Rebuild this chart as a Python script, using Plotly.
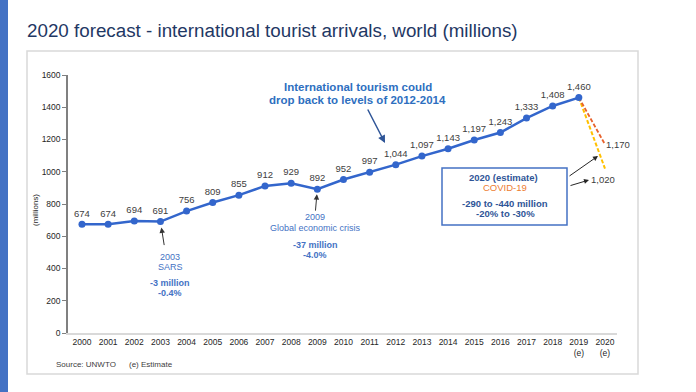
import plotly.graph_objects as go

# ---------------- data ----------------
years = list(range(2000, 2020))
arrivals = [674, 674, 694, 691, 756, 809, 855, 912, 929, 892,
            952, 997, 1044, 1097, 1143, 1197, 1243, 1333, 1408, 1460]
forecast_years = [2019, 2020]
forecast_high = [1460, 1170]
forecast_low = [1460, 1020]
tick_years = list(range(2000, 2021))
tick_text = [str(y) for y in range(2000, 2019)] + ["2019<br>(e)", "2020<br>(e)"]
point_labels = [f"{v:,}" for v in arrivals]

W, H = 696, 392
L, R, T, B = 68, 617, 75, 333


def px(x):
    return (x - L) / (R - L)


def py(y):
    return (B - y) / (B - T)


FONT = "Arial, 'Liberation Sans', sans-serif"
BLUE_LINE = "#3366CC"
TXT_BLUE = "#4472C4"

fig = go.Figure()

fig.add_trace(go.Scatter(
    x=forecast_years, y=forecast_low, mode="lines",
    line=dict(color="#FFC000", width=2, dash="4px,2px"), hoverinfo="skip"))
fig.add_trace(go.Scatter(
    x=forecast_years, y=forecast_high, mode="lines",
    line=dict(color="#E8622C", width=1.8, dash="4px,2px"), hoverinfo="skip"))
fig.add_trace(go.Scatter(
    x=years, y=arrivals, mode="lines+markers+text",
    line=dict(color=BLUE_LINE, width=2.5),
    marker=dict(size=7, color=BLUE_LINE),
    text=point_labels, textposition="top center",
    textfont=dict(size=9.5, color="#404040", family=FONT),
    cliponaxis=False))

shapes = [
    dict(type="rect", xref="paper", yref="paper",
         x0=px(0), x1=px(8), y0=py(392), y1=py(0),
         fillcolor="#4472C4", line=dict(width=0), layer="below"),
    dict(type="rect", xref="paper", yref="paper",
         x0=px(27), x1=px(638), y0=py(374), y1=py(51),
         fillcolor="rgba(0,0,0,0)", line=dict(color="#D9D9D9", width=1.5), layer="below"),
    dict(type="rect", xref="paper", yref="paper",
         x0=px(442), x1=px(567), y0=py(225), y1=py(168),
         fillcolor="white", line=dict(color="#4472C4", width=1.5)),
]

ann = []


def text(x, y, s, size=9, color=TXT_BLUE, bold=False, anchor="center"):
    ann.append(dict(xref="paper", yref="paper", x=px(x), y=py(y),
                    text=f"<b>{s}</b>" if bold else s, showarrow=False,
                    xanchor=anchor, yanchor="middle",
                    font=dict(size=size, color=color, family=FONT)))


# title
text(25, 31, "2020 forecast - international tourist arrivals, world (millions)",
     size=18.8, color="#1F3864", anchor="left")
# axis title
ann.append(dict(xref="paper", yref="paper", x=px(35), y=py(210), text="(millions)",
                showarrow=False, textangle=-90, xanchor="center", yanchor="middle",
                font=dict(size=8, color="#262626", family=FONT)))
# source
text(54, 364, "Source: UNWTO", size=8, color="#404040", anchor="left")
text(127, 364, "(e) Estimate", size=8, color="#404040", anchor="left")

# international tourism note
text(358, 87, "International tourism could", size=11.5, color="#2E6FBF", bold=True)
text(357, 100, "drop back to levels of 2012-2014", size=11.5, color="#2E6FBF", bold=True)
ann.append(dict(xref="paper", yref="paper", x=px(385), y=py(143), ax=-18, ay=-35,
                text="", showarrow=True, arrowhead=2, arrowsize=1, arrowwidth=1.5,
                arrowcolor="#2F5597"))

# 2003
ann.append(dict(x=2003, y=691, ax=4, ay=25, text="", showarrow=True, arrowhead=2,
                arrowsize=1.1, arrowwidth=1, arrowcolor="#333333", standoff=6))
text(170, 257, "2003")
text(170, 267, "SARS")
text(170, 283, "-3 million", bold=True)
text(170, 293, "-0.4%", bold=True)

# 2009
ann.append(dict(x=2009, y=892, ax=-2, ay=23, text="", showarrow=True, arrowhead=2,
                arrowsize=1.1, arrowwidth=1, arrowcolor="#333333", standoff=5))
text(315, 217, "2009")
text(315, 228, "Global economic crisis")
text(315, 245, "-37 million", bold=True)
text(315, 255, "-4.0%", bold=True)

# 2020 box
text(503, 177, "2020 (estimate)", size=9.5, color="#2F5597", bold=True)
text(505, 187, "COVID-19", size=9.5, color="#ED7D31")
text(505, 203, "-290 to -440 million", size=9.5, color="#2F5597", bold=True)
text(505, 213, "-20% to -30%", size=9.5, color="#2F5597", bold=True)

ann.append(dict(xref="paper", yref="paper", x=px(598), y=py(156), ax=-30, ay=21,
                text="", showarrow=True, arrowhead=2, arrowsize=1, arrowwidth=1,
                arrowcolor="#262626"))
ann.append(dict(xref="paper", yref="paper", x=px(589), y=py(180), ax=-20, ay=6,
                text="", showarrow=True, arrowhead=2, arrowsize=1, arrowwidth=1,
                arrowcolor="#262626"))

# forecast labels
ann.append(dict(x=2020, y=forecast_high[1], text=f"{forecast_high[1]:,}", showarrow=False,
                xanchor="left", yanchor="middle", xshift=-1,
                font=dict(size=9.5, color="#404040", family=FONT)))
ann.append(dict(x=2020, y=forecast_low[1], text=f"{forecast_low[1]:,}", showarrow=False,
                xanchor="center", yanchor="middle", xshift=-2, yshift=-11,
                font=dict(size=9.5, color="#404040", family=FONT)))

fig.update_layout(
    width=W, height=H,
    margin=dict(l=L, r=W - R, t=T, b=H - B),
    paper_bgcolor="white", plot_bgcolor="white",
    showlegend=False,
    font=dict(family=FONT),
    shapes=shapes, annotations=ann,
    xaxis=dict(range=[1999.465, 2020.46], tickvals=tick_years, ticktext=tick_text,
               showline=True, linecolor="#D9D9D9", linewidth=2, ticks="",
               showgrid=False, zeroline=False,
               tickfont=dict(size=8.5, color="#262626", family=FONT)),
    yaxis=dict(range=[0, 1600], dtick=200, showline=True, linecolor="#808080",
               linewidth=1.5, ticks="outside", ticklen=4, tickcolor="#808080",
               showgrid=False, zeroline=False,
               tickfont=dict(size=8.5, color="#262626", family=FONT)),
)

fig.write_html("out.html", config={"displayModeBar": False},
               post_script="document.body.style.margin='0';document.body.style.overflow='hidden';")
